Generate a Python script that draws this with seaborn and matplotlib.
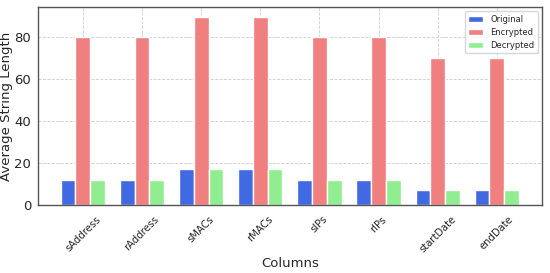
import pandas as pd
import matplotlib
matplotlib.use("Agg")
import matplotlib.pyplot as plt
import seaborn as sns

# values
columns = ["sAddress", "rAddress", "sMACs", "rMACs", "sIPs", "rIPs", "startDate", "endDate"]
original = [12, 12, 17, 17, 12, 12, 7, 7]
encrypted = [80, 80, 90, 90, 80, 80, 70, 70]
decrypted = [12, 12, 17, 17, 12, 12, 7, 7]
series = ["Original", "Encrypted", "Decrypted"]
colors = ["royalblue", "lightcoral", "lightgreen"]

df = pd.DataFrame({"Original": original, "Encrypted": encrypted, "Decrypted": decrypted}, index=columns)
df = df.reset_index().melt(id_vars="index", var_name="Type", value_name="Length")
df = df.rename(columns={"index": "Column"})

sns.set_style("white")
plt.rcParams["font.family"] = ["DejaVu Sans"]

fig, ax = plt.subplots(figsize=(5.5, 2.73), dpi=100)
sns.barplot(data=df, x="Column", y="Length", hue="Type", hue_order=series,
            palette=colors, saturation=1, width=0.75, ax=ax)

ax.set_xlim(-0.76, 7.76)
ax.set_ylim(0, 94.5)
ax.set_yticks([0, 20, 40, 60, 80])
ax.grid(True, linestyle="--", color="#cccccc", linewidth=0.6)
ax.set_axisbelow(True)
for s in ax.spines.values():
    s.set_color("#555555")
    s.set_linewidth(1.0)

ax.set_xlabel("Columns", fontsize=9.5, labelpad=2)
ax.set_ylabel("Average String Length", fontsize=9.5, labelpad=1)
ax.tick_params(axis="x", labelsize=7.2, rotation=45, length=3)
ax.tick_params(axis="y", labelsize=9.5, length=3, pad=2)
for lbl in ax.get_xticklabels():
    lbl.set_ha("center")

ax.legend(title=None, loc="upper right", fontsize=6, frameon=True, handlelength=1.8)

plt.subplots_adjust(left=0.069, right=0.985, top=0.974, bottom=0.249)
plt.savefig("out.png")
